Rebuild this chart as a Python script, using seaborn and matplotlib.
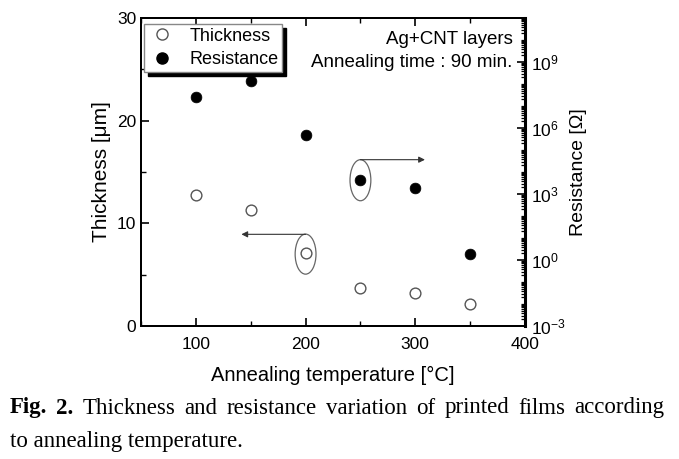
import numpy as np
import pandas as pd
import matplotlib
matplotlib.use("Agg")
import matplotlib.pyplot as plt
import seaborn as sns
from matplotlib.patches import Ellipse
from matplotlib.ticker import FixedLocator, LogLocator, FuncFormatter, MultipleLocator

temperature = [100, 150, 200, 250, 300, 350]
thickness = [12.75, 11.3, 7.1, 3.7, 3.25, 2.1]
resistance = [2.5e7, 1.4e8, 5.0e5, 4.3e3, 1.9e3, 1.9]
x_ticks = [100, 200, 300, 400]
y_ticks = [0, 10, 20, 30]
r_ticks = [1e-3, 1e0, 1e3, 1e6, 1e9]

sns.set_style("ticks")
plt.rcParams['font.family'] = ['Liberation Sans', 'DejaVu Sans']
plt.rcParams['mathtext.fontset'] = 'custom'
plt.rcParams['mathtext.rm'] = 'Liberation Sans'
plt.rcParams['mathtext.it'] = 'Liberation Sans'
for k in ['text.color', 'axes.labelcolor', 'xtick.color', 'ytick.color', 'axes.edgecolor']:
    plt.rcParams[k] = 'black'

df = pd.DataFrame({"T": temperature, "thk": thickness, "res": resistance})

fig = plt.figure(figsize=(6.79, 4.59), dpi=100)
ax = fig.add_axes([141/679, 133/459, 384/679, 308/459])
ax2 = ax.twinx()

sns.scatterplot(data=df, x="T", y="thk", ax=ax, s=60, marker='o',
                facecolor='white', edgecolor='#555555', linewidth=1.0, zorder=3)
sns.scatterplot(data=df, x="T", y="res", ax=ax2, s=60, marker='o',
                color='black', edgecolor='black', linewidth=0.5, zorder=3)

ax.set_xlim(50, 400)
ax.set_ylim(0, 30)
ax2.set_yscale('log')
ax2.set_ylim(1e-3, 1e11)

ax.set_xticks(x_ticks)
ax.xaxis.set_minor_locator(MultipleLocator(50))
ax.set_yticks(y_ticks)
ax.yaxis.set_minor_locator(MultipleLocator(5))
ax.tick_params(axis='both', which='major', direction='in', length=6, width=1.2,
               labelsize=12.5, top=True, right=False)
ax.tick_params(axis='both', which='minor', direction='in', length=3.5, width=1.0,
               top=True, right=False)
ax.tick_params(axis='x', pad=8)

ax2.yaxis.set_major_locator(FixedLocator(r_ticks))
ax2.yaxis.set_minor_locator(LogLocator(base=10, subs=np.arange(1, 10), numticks=200))
ax2.yaxis.set_major_formatter(FuncFormatter(lambda v, p: r'$10^{%d}$' % int(round(np.log10(v)))))
ax2.yaxis.set_minor_formatter(FuncFormatter(lambda v, p: ''))
ax2.tick_params(axis='y', which='major', direction='in', length=6, width=1.2, labelsize=12.5, pad=4)
ax2.tick_params(axis='y', which='minor', direction='in', length=3, width=0.9)

for a in (ax, ax2):
    for s in a.spines.values():
        s.set_linewidth(1.4)
        s.set_color('black')
ax2.spines['right'].set_linewidth(2.2)

ax.set_xlabel("Annealing temperature [°C]", fontsize=14.5, labelpad=10)
ax.set_ylabel("Thickness [μm]", fontsize=15, labelpad=4)
ax2.set_ylabel("Resistance [Ω]", fontsize=14, labelpad=3)

# legend
h1 = plt.Line2D([], [], marker='o', ls='none', markersize=8, markerfacecolor='white',
                markeredgecolor='#555555', markeredgewidth=1.0)
h2 = plt.Line2D([], [], marker='o', ls='none', markersize=8, color='black')
leg = ax2.legend([h1, h2], ["Thickness", "Resistance"], loc='upper left',
                 bbox_to_anchor=(0.008, 0.98), borderaxespad=0, fontsize=13,
                 frameon=True, fancybox=False, handletextpad=0.7, borderpad=0.2,
                 labelspacing=0.35, handlelength=1.6,
                 shadow={'ox': 3, 'oy': -3, 'color': 'black', 'alpha': 1})
leg.get_frame().set_edgecolor('#888888')
leg.get_frame().set_linewidth(1.0)

ax.text(0.968, 0.929, "Ag+CNT layers", transform=ax.transAxes, ha='right', va='center', fontsize=13.5)
ax.text(0.968, 0.857, "Annealing time : 90 min.", transform=ax.transAxes, ha='right', va='center', fontsize=13.5)

# annotation ellipses and arrows
ax.add_patch(Ellipse((200, 7.0), 19, 3.9, fill=False, edgecolor='#666666', lw=0.9, zorder=2))
ax.annotate("", xy=(141.5, 8.93), xytext=(200, 8.93),
            arrowprops=dict(arrowstyle='-|>', lw=0.8, color='#333333', mutation_scale=9, shrinkA=0, shrinkB=0))
ax.add_patch(Ellipse((250, 14.2), 19, 4.0, fill=False, edgecolor='#666666', lw=0.9, zorder=2))
ax.annotate("", xy=(308.8, 16.2), xytext=(250, 16.2),
            arrowprops=dict(arrowstyle='-|>', lw=0.8, color='#333333', mutation_scale=9, shrinkA=0, shrinkB=0))

# caption (justified first line)
fig.canvas.draw()
r = fig.canvas.get_renderer()
cap_fs = 16.5
serif = ['Liberation Serif', 'DejaVu Serif']
left_px, right_px = 10, 664
y1 = 1 - 408/459
y2 = 1 - 441/459
words1 = [("Fig.", 'bold'), ("2.", 'bold'), ("Thickness", 'normal'), ("and", 'normal'),
          ("resistance", 'normal'), ("variation", 'normal'), ("of", 'normal'),
          ("printed", 'normal'), ("films", 'normal'), ("according", 'normal')]
tobjs = []
for w, wt in words1:
    t = fig.text(0, y1, w, fontsize=cap_fs, family=serif, fontweight=wt, va='center', ha='left')
    tobjs.append(t)
widths = [t.get_window_extent(r).width for t in tobjs]
gap = (right_px - left_px - sum(widths)) / (len(widths) - 1)
x = left_px
for t, wdt in zip(tobjs, widths):
    t.set_x(x / 679)
    x += wdt + gap
fig.text(left_px / 679, y2, "to annealing temperature.", fontsize=cap_fs, family=serif,
         va='center', ha='left')

fig.savefig("out.png", dpi=100)
